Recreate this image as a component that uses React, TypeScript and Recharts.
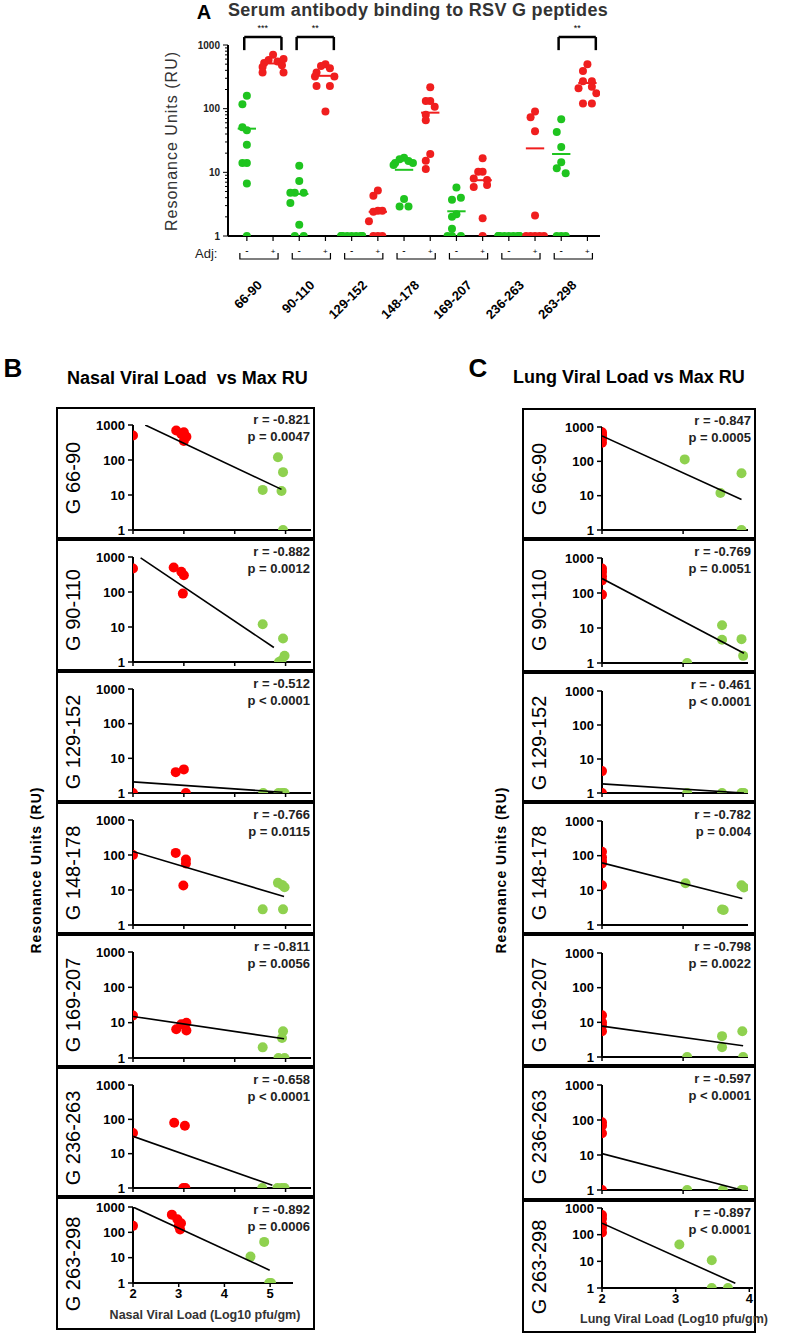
import React from 'react';
import { ScatterChart, Scatter, XAxis, YAxis, ReferenceLine } from 'recharts';

// ---- Panel A: serum antibody binding per peptide, without (-) and with (+) adjuvant
const GROUPS = ['66-90', '90-110', '129-152', '148-178', '169-207', '236-263', '263-298'];
const GREEN_RU = [
  [160, 117, 46, 51, 27, 14, 14, 6.7, 1],
  [12.7, 7.3, 4.8, 4.8, 4.8, 3.3, 1.5, 1, 1],
  [1, 1, 1, 1, 1, 1, 1, 1, 1],
  [17, 16, 15, 14, 14, 13, 3.8, 2.9, 2.9],
  [5.8, 3.7, 4.0, 2.2, 2.0, 1.3, 1, 1, 1],
  [1, 1, 1, 1, 1, 1, 1, 1, 1],
  [68, 43, 25, 14.4, 11.6, 9.7, 1, 1, 1],
];
const RED_RU = [
  [700, 580, 550, 520, 480, 450, 600, 370, 370],
  [500, 470, 430, 370, 320, 320, 226, 226, 90],
  [5.2, 4.3, 2.5, 2.4, 2.5, 1.7, 1, 1, 1],
  [216, 132, 132, 107, 80, 66, 19.4, 15.2, 11.3],
  [16.6, 10.2, 10.2, 7.6, 8, 6.3, 5.9, 1.9, 1],
  [90, 73, 44, 2.1, 1, 1, 1, 1, 1],
  [500, 390, 270, 270, 221, 210, 174, 121, 121],
];
const SIG_GROUPS = [0, 1, 6];
const SIG_STARS = ['***', '**', '**'];

// ---- Panels B / C: max RU vs viral load, [log10 pfu/gm, RU]
const PEPTIDES = ['G 66-90', 'G 90-110', 'G 129-152', 'G 148-178', 'G 169-207', 'G 236-263', 'G 263-298'];

const NASAL_RED: [number, number][][] = [
  [[2, 500], [2.85, 700], [3.0, 620], [2.95, 550], [3.05, 460], [3.0, 350]],
  [[2, 470], [2.8, 500], [2.95, 380], [3.0, 300], [2.98, 90]],
  [[2, 1], [2.84, 4], [3.0, 4.8], [3.04, 1]],
  [[2, 100], [2.84, 115], [3.04, 74], [3.04, 57], [2.99, 13.5]],
  [[2, 16], [2.85, 6.5], [2.95, 9], [3.05, 10], [3.05, 6]],
  [[2, 40], [2.81, 80], [3.02, 65], [2.99, 1], [3.03, 1]],
  [[2, 180], [2.85, 500], [2.97, 330], [3.05, 230], [3.03, 130], [3.0, 180]],
];
const NASAL_GREEN: [number, number][][] = [
  [[4.55, 14], [4.85, 120], [4.95, 45], [4.92, 13], [4.95, 1]],
  [[4.55, 12], [4.95, 4.7], [4.98, 1.5], [4.87, 1], [4.92, 1.1]],
  [[4.56, 1], [4.86, 1], [4.98, 1], [4.93, 1]],
  [[4.55, 2.8], [4.95, 2.8], [4.85, 16], [4.93, 14], [4.98, 12]],
  [[4.55, 2], [4.95, 5.7], [4.93, 3.7], [4.86, 1], [4.98, 1]],
  [[4.54, 1], [4.84, 1], [4.98, 1], [4.92, 1]],
  [[4.57, 11], [4.87, 42], [4.98, 1], [5.02, 1]],
];
const NASAL_FIT: [number, number][][] = [
  [[2.24, 1000], [4.92, 14.5]],
  [[2.15, 940], [4.77, 2.6]],
  [[2, 2.1], [4.94, 1.05]],
  [[2, 126], [4.97, 6.5]],
  [[2, 15], [4.97, 3.5]],
  [[2, 32], [4.74, 1.2]],
  [[2, 1000], [4.99, 3.2]],
];
const NASAL_STATS = [
  ['r = -0.821', 'p = 0.0047'],
  ['r = -0.882', 'p = 0.0012'],
  ['r = -0.512', 'p < 0.0001'],
  ['r = -0.766', 'p = 0.0115'],
  ['r = -0.811', 'p = 0.0056'],
  ['r = -0.658', 'p < 0.0001'],
  ['r = -0.892', 'p = 0.0006'],
];

const LUNG_RED: [number, number][][] = [
  [[2, 700], [2, 600], [2, 550], [2, 450], [2, 350]],
  [[2, 500], [2, 400], [2, 300], [2, 230], [2, 90]],
  [[2, 4.4], [2, 1]],
  [[2, 130], [2, 90], [2, 70], [2, 60], [2, 14]],
  [[2, 16], [2, 10], [2, 8], [2, 5.5]],
  [[2, 86], [2, 69], [2, 42], [2, 1]],
  [[2, 550], [2, 400], [2, 250], [2, 180], [2, 120]],
];
const LUNG_GREEN: [number, number][][] = [
  [[3.02, 114], [3.46, 12], [3.72, 45], [3.72, 1]],
  [[3.05, 1], [3.48, 12], [3.48, 4.6], [3.72, 4.8], [3.74, 1.6]],
  [[3.05, 1], [3.48, 1], [3.72, 1], [3.75, 1]],
  [[3.03, 16], [3.48, 2.8], [3.5, 2.7], [3.72, 14], [3.75, 12]],
  [[3.05, 1], [3.48, 4], [3.48, 1.9], [3.73, 5.5], [3.74, 1]],
  [[3.05, 1], [3.49, 1], [3.72, 1], [3.75, 1]],
  [[3.05, 43], [3.49, 11], [3.49, 1], [3.71, 1]],
];
const LUNG_FIT: [number, number][][] = [
  [[2, 550], [3.72, 7.7]],
  [[2, 260], [3.75, 1.9]],
  [[2, 1.85], [3.75, 1]],
  [[2, 62], [3.73, 5.8]],
  [[2, 7.8], [3.74, 2.1]],
  [[2, 11], [3.72, 1]],
  [[2, 270], [3.81, 1.5]],
];
const LUNG_STATS = [
  ['r = -0.847', 'p = 0.0005'],
  ['r = -0.769', 'p = 0.0051'],
  ['r = - 0.461', 'p < 0.0001'],
  ['r = -0.782', 'p = 0.004'],
  ['r = -0.798', 'p = 0.0022'],
  ['r = -0.597', 'p < 0.0001'],
  ['r = -0.897', 'p < 0.0001'],
];

const FONT = '"Liberation Sans", Arial, sans-serif';
const A_GREEN = '#1fc41f';
const A_RED = '#f01e1e';
const BC_GREEN = '#8fd14f';
const BC_RED = '#ff0000';

const A_DOMAIN: [number, number] = [-0.72, 13.48];
const A_PLOT_W = 372;
const A_STEP = A_PLOT_W / (A_DOMAIN[1] - A_DOMAIN[0]);
const MAJOR = [1, 10, 100, 1000];
const A_TICKS = [1, 2, 3, 4, 5, 6, 7, 8, 9, 10, 20, 30, 40, 50, 60, 70, 80, 90, 100, 200, 300, 400, 500, 600, 700, 800, 900, 1000];

// spread points sideways when they sit close together on the log axis
function spread(values: number[]) {
  return values.map((v, i) => {
    let k = 0;
    for (let j = 0; j < i; j++) {
      if (Math.abs(Math.log10(values[j]) - Math.log10(v)) < 0.2) k++;
    }
    const off = Math.min(Math.ceil(k / 2) * 0.17, 0.4);
    return k % 2 ? -off : off;
  });
}

const mean = (vals: number[]) => vals.reduce((s, v) => s + v, 0) / vals.length;

const dot = (r: number, fill: string) => (p: any) => <circle cx={p.cx} cy={p.cy} r={r} fill={fill} />;

const LogTickA = (props: any) => {
  const { x, y, payload } = props;
  const major = MAJOR.includes(payload.value);
  return (
    <g>
      <line x1={x - (major ? 5 : 3)} x2={x} y1={y} y2={y} stroke="#000" strokeWidth={1} />
      {major && (
        <text x={x - 8} y={y} dy={3.5} textAnchor="end" fontSize={10} fontWeight="bold" fill="#222" fontFamily={FONT}>
          {payload.value}
        </text>
      )}
    </g>
  );
};

const GroupTick = (props: any) => {
  const { x, y, payload } = props;
  const i = payload.value;
  const green = i % 2 === 0;
  return (
    <g fontFamily={FONT}>
      <line x1={x} x2={x} y1={y} y2={y + 5} stroke="#000" strokeWidth={1.2} />
      <text x={x} y={y + 18} textAnchor="middle" fontSize={green ? 10 : 8} fill="#000">
        {green ? '-' : '+'}
      </text>
      {green && (
        <path
          d={`M${x - 7},${y + 17} V${y + 23} H${x + A_STEP + 5} V${y + 17}`}
          fill="none"
          stroke="#000"
          strokeWidth={1.2}
        />
      )}
      {green && (
        <text
          transform={`translate(${x + A_STEP / 2 + 3},${y + 50}) rotate(-45)`}
          textAnchor="end"
          fontSize={13}
          fontWeight="bold"
          fill="#000"
        >
          {GROUPS[i / 2]}
        </text>
      )}
    </g>
  );
};

function PanelA() {
  const series: { idx: number; vals: number[]; color: string }[] = [];
  GROUPS.forEach((_, g) => {
    series.push({ idx: 2 * g, vals: GREEN_RU[g], color: A_GREEN });
    series.push({ idx: 2 * g + 1, vals: RED_RU[g], color: A_RED });
  });
  return (
    <div style={{ position: 'absolute', left: 180, top: 0 }}>
      <ScatterChart width={430} height={330} margin={{ top: 45, right: 10, left: 0, bottom: 0 }}>
        <XAxis
          type="number"
          dataKey="x"
          domain={A_DOMAIN}
          ticks={[0, 1, 2, 3, 4, 5, 6, 7, 8, 9, 10, 11, 12, 13]}
          interval={0}
          tickSize={0}
          tickMargin={0}
          tickLine={false}
          tick={<GroupTick />}
          axisLine={{ stroke: '#000', strokeWidth: 2 }}
          height={94}
          allowDataOverflow
        />
        <YAxis
          type="number"
          dataKey="y"
          scale="log"
          domain={[1, 1000]}
          ticks={A_TICKS}
          interval={0}
          tickSize={0}
          tickMargin={0}
          tickLine={false}
          tick={<LogTickA />}
          axisLine={{ stroke: '#000', strokeWidth: 2 }}
          width={48}
          allowDataOverflow
        />
        {series.map((s) => {
          const offs = spread(s.vals);
          const data = s.vals.map((v, k) => ({ x: s.idx + offs[k], y: v }));
          return (
            <Scatter key={s.idx} data={data} isAnimationActive={false} shape={dot(4, s.color)} />
          );
        })}
        {series.map((s) => (
          <ReferenceLine
            key={'m' + s.idx}
            segment={[
              { x: s.idx - 0.35, y: mean(s.vals) },
              { x: s.idx + 0.35, y: mean(s.vals) },
            ]}
            stroke={s.color}
            strokeWidth={2}
            ifOverflow="visible"
          />
        ))}
        {SIG_GROUPS.map((g, k) => {
          const xl = 2 * g - 0.1;
          const xr = 2 * g + 1.32;
          return (
            <React.Fragment key={'s' + g}>
              <ReferenceLine segment={[{ x: xl, y: 830 }, { x: xl, y: 1334 }]} stroke="#000" strokeWidth={2.5} ifOverflow="visible" />
              <ReferenceLine segment={[{ x: xr, y: 830 }, { x: xr, y: 1334 }]} stroke="#000" strokeWidth={2.5} ifOverflow="visible" />
              <ReferenceLine
                segment={[{ x: xl, y: 1334 }, { x: xr, y: 1334 }]}
                stroke="#000"
                strokeWidth={2.5}
                ifOverflow="visible"
                label={{ value: SIG_STARS[k], position: 'top', fontSize: 9, fill: '#000', offset: 6 }}
              />
            </React.Fragment>
          );
        })}
      </ScatterChart>
    </div>
  );
}

type PanelProps = {
  left: number;
  top: number;
  w: number;
  h: number;
  axisX: number;
  plotRight: number;
  yTop: number;
  yBottom: number;
  xDomain: [number, number];
  xTicks: number[];
  showX: boolean;
  red: [number, number][];
  green: [number, number][];
  fit: [number, number][];
  label: string;
  labelY: number;
  stats: string[];
};

function Panel(p: PanelProps) {
  const toPts = (arr: [number, number][]) => arr.map(([x, y]) => ({ x, y }));
  return (
    <>
      <div style={{ position: 'absolute', left: p.left, top: p.top }}>
        <ScatterChart
          width={p.w}
          height={p.h}
          margin={{ top: p.yTop, right: p.left + p.w - p.plotRight, left: 0, bottom: 0 }}
        >
          <XAxis
            type="number"
            dataKey="x"
            domain={p.xDomain}
            ticks={p.xTicks}
            interval={0}
            tickSize={4}
            tickMargin={2}
            tickLine={{ stroke: '#000', strokeWidth: 1.5 }}
            tick={p.showX ? { fontSize: 13, fontWeight: 'bold', fill: '#000', fontFamily: FONT } : () => <g />}
            axisLine={{ stroke: '#000', strokeWidth: 2 }}
            height={p.h - p.yBottom}
            allowDataOverflow
          />
          <YAxis
            type="number"
            dataKey="y"
            scale="log"
            domain={[1, 1000]}
            ticks={MAJOR}
            interval={0}
            tickSize={5}
            tickMargin={3}
            tickLine={{ stroke: '#000', strokeWidth: 1.5 }}
            tick={{ fontSize: 13, fontWeight: 'bold', fill: '#000', fontFamily: FONT }}
            axisLine={{ stroke: '#000', strokeWidth: 2 }}
            width={p.axisX - p.left}
            allowDataOverflow
          />
          <Scatter data={toPts(p.red)} isAnimationActive={false} shape={dot(5, BC_RED)} />
          <Scatter data={toPts(p.green)} isAnimationActive={false} shape={dot(5, BC_GREEN)} />
          <Scatter
            data={toPts(p.fit)}
            isAnimationActive={false}
            line={{ stroke: '#000', strokeWidth: 1.6 }}
            shape={() => <g />}
          />
        </ScatterChart>
      </div>
      <div
        style={{
          position: 'absolute',
          left: p.left,
          top: p.top,
          width: p.w,
          height: p.h,
          border: '2px solid #000',
          boxSizing: 'border-box',
          pointerEvents: 'none',
        }}
      />
      <div
        style={{
          position: 'absolute',
          left: p.left + 17,
          top: p.labelY,
          transform: 'translate(-50%,-50%) rotate(-90deg)',
          fontSize: 20,
          whiteSpace: 'nowrap',
          color: '#000',
        }}
      >
        {p.label}
      </div>
      <div
        style={{
          position: 'absolute',
          left: p.left,
          top: p.top + 4,
          width: p.w - 5,
          textAlign: 'right',
          fontSize: 13,
          fontWeight: 'bold',
          lineHeight: '17px',
          color: '#222',
        }}
      >
        <div>{p.stats[0]}</div>
        <div>{p.stats[1]}</div>
      </div>
    </>
  );
}

const B_TOPS = [407, 539, 671, 802, 934, 1067, 1197];
const B_BOTTOM = 1330;
const C_TOPS = [408, 539, 672, 802, 934, 1066, 1200];
const C_BOTTOM = 1333;

const Txt = (props: { x: number; y: number; size: number; bold?: boolean; rot?: boolean; anchor?: 'left' | 'center'; color?: string; spacing?: number; children: React.ReactNode }) => (
  <div
    style={{
      position: 'absolute',
      left: props.x,
      top: props.y,
      transform: props.rot
        ? 'translate(-50%,-50%) rotate(-90deg)'
        : props.anchor === 'left'
        ? 'translate(0,-50%)'
        : 'translate(-50%,-50%)',
      fontSize: props.size,
      fontWeight: props.bold ? 'bold' : 'normal',
      whiteSpace: 'nowrap',
      color: props.color || '#000',
      letterSpacing: props.spacing || 0,
    }}
  >
    {props.children}
  </div>
);

export default function App() {
  return (
    <div
      style={{
        position: 'absolute',
        left: 0,
        top: 0,
        width: 787,
        height: 1337,
        background: '#fff',
        fontFamily: FONT,
        overflow: 'hidden',
      }}
    >
      <PanelA />
      <Txt x={204} y={12} size={20} bold>A</Txt>
      <Txt x={418} y={10} size={18} bold color="#333" spacing={0.3}>Serum antibody binding to RSV G peptides</Txt>
      <Txt x={172} y={141} size={16} rot color="#333" spacing={1}>Resonance Units (RU)</Txt>
      <Txt x={195} y={253} size={13} anchor="left" color="#222">Adj:</Txt>

      <Txt x={13} y={368} size={26} bold>B</Txt>
      <Txt x={67} y={378} size={18} bold anchor="left">Nasal Viral Load&nbsp; vs Max RU</Txt>
      <Txt x={478} y={368} size={26} bold>C</Txt>
      <Txt x={513} y={377} size={18} bold anchor="left">Lung Viral Load vs Max RU</Txt>
      <Txt x={36} y={870} size={14} bold rot spacing={1}>Resonance Units (RU)</Txt>
      <Txt x={501} y={870} size={14} bold rot spacing={1}>Resonance Units (RU)</Txt>

      {PEPTIDES.map((name, i) => {
        const last = i === PEPTIDES.length - 1;
        const top = B_TOPS[i];
        const h = (last ? B_BOTTOM : B_TOPS[i + 1]) - top;
        return (
          <Panel
            key={'b' + i}
            left={56}
            top={top}
            w={259}
            h={h}
            axisX={133}
            plotRight={last ? 293 : 311}
            yTop={last ? 10 : 18}
            yBottom={last ? 86 : Math.min(124, h - 9)}
            xDomain={[2, 5.5]}
            xTicks={[2, 3, 4, 5]}
            showX={last}
            red={NASAL_RED[i]}
            green={NASAL_GREEN[i]}
            fit={NASAL_FIT[i]}
            label={name}
            labelY={last ? top + h / 2 : top + 71}
            stats={NASAL_STATS[i]}
          />
        );
      })}
      {PEPTIDES.map((name, i) => {
        const last = i === PEPTIDES.length - 1;
        const top = C_TOPS[i];
        const h = (last ? C_BOTTOM : C_TOPS[i + 1]) - top;
        return (
          <Panel
            key={'c' + i}
            left={522}
            top={top}
            w={234}
            h={h}
            axisX={602}
            plotRight={last ? 753 : 748}
            yTop={last ? 8 : 19}
            yBottom={last ? 88 : Math.min(124, h - 9)}
            xDomain={last ? [2, 4.05] : [2, 3.8]}
            xTicks={last ? [2, 3, 4] : [2, 3]}
            showX={last}
            red={LUNG_RED[i]}
            green={LUNG_GREEN[i]}
            fit={LUNG_FIT[i]}
            label={name}
            labelY={last ? top + h / 2 : top + 71}
            stats={LUNG_STATS[i]}
          />
        );
      })}
      <Txt x={205} y={1315} size={12.5} bold color="#333">Nasal Viral Load (Log10 pfu/gm)</Txt>
      <Txt x={674} y={1319} size={12.5} bold color="#333">Lung Viral Load (Log10 pfu/gm)</Txt>
    </div>
  );
}
